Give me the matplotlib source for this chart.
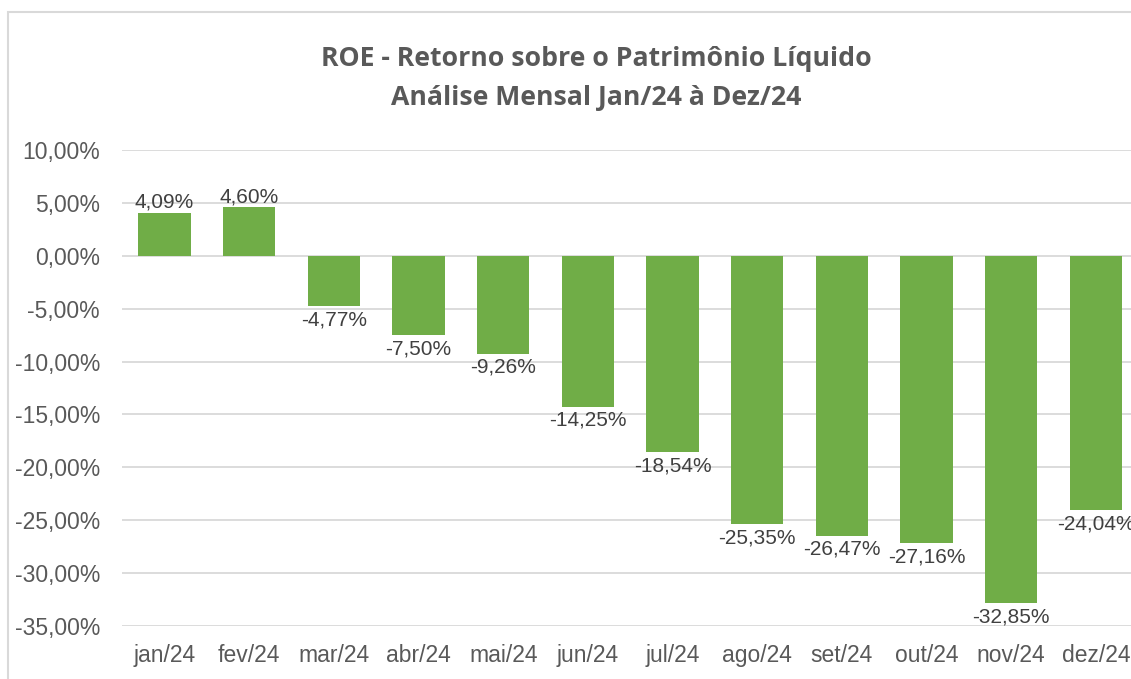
import matplotlib
matplotlib.use("Agg")
import matplotlib.pyplot as plt
from matplotlib.patches import Rectangle
from matplotlib.ticker import FuncFormatter

months = ["jan/24", "fev/24", "mar/24", "abr/24", "mai/24", "jun/24",
          "jul/24", "ago/24", "set/24", "out/24", "nov/24", "dez/24"]
roe = [4.09, 4.60, -4.77, -7.50, -9.26, -14.25, -18.54, -25.35, -26.47, -27.16, -32.85, -24.04]
title_lines = ["ROE - Retorno sobre o Patrimônio Líquido", "Análise Mensal Jan/24 à Dez/24"]

W, H = 1131, 679
fig = plt.figure(figsize=(W / 100, H / 100), dpi=100)
fig.patch.set_facecolor("white")

# chart frame
fig.patches.append(Rectangle((8 / W, -0.1), 1.2, (H - 12) / H + 0.1, transform=fig.transFigure,
                             fill=False, edgecolor="#d9d9d9", linewidth=1.5))

ax = fig.add_axes([122.2 / W, 53 / H, 1016 / W, 476 / H])
x = list(range(len(months)))
ax.bar(x, roe, width=0.62, color="#70AD47", zorder=3)
ax.set_xlim(-0.5, len(months) - 0.5)
ax.set_ylim(-35, 10)
ax.set_yticks(range(-35, 11, 5))

def fmt(v):
    s = f"{v:.2f}".replace(".", ",")
    return s + "%"

ax.yaxis.set_major_formatter(FuncFormatter(lambda v, p: fmt(v)))
ax.set_xticks(x)
ax.set_xticklabels(months)
ax.grid(axis="y", color="#d9d9d9", linewidth=1.3, zorder=0)
for s in ax.spines.values():
    s.set_visible(False)
ax.tick_params(axis="both", length=0, labelsize=16.5, labelcolor="#595959")
ax.tick_params(axis="y", pad=16)
ax.tick_params(axis="x", pad=13)
for lab in ax.get_xticklabels() + ax.get_yticklabels():
    lab.set_fontfamily("Liberation Sans")

for xi, v in zip(x, roe):
    if v >= 0:
        ax.annotate(fmt(v), (xi, v), xytext=(0, 0.5), textcoords="offset points",
                    ha="center", va="bottom", fontsize=15, color="#404040", family="Liberation Sans")
    else:
        ax.annotate(fmt(v), (xi, v), xytext=(0, -3), textcoords="offset points",
                    ha="center", va="top", fontsize=15, color="#404040", family="Liberation Sans")

fig.text(596 / W, 1 - 59 / H, title_lines[0], ha="center", va="center", fontsize=19.2,
         fontweight="bold", color="#595959", family="Open Sans")
fig.text(596 / W, 1 - 98 / H, title_lines[1], ha="center", va="center", fontsize=19.2,
         fontweight="bold", color="#595959", family="Open Sans")

fig.savefig("out.png", dpi=100)
